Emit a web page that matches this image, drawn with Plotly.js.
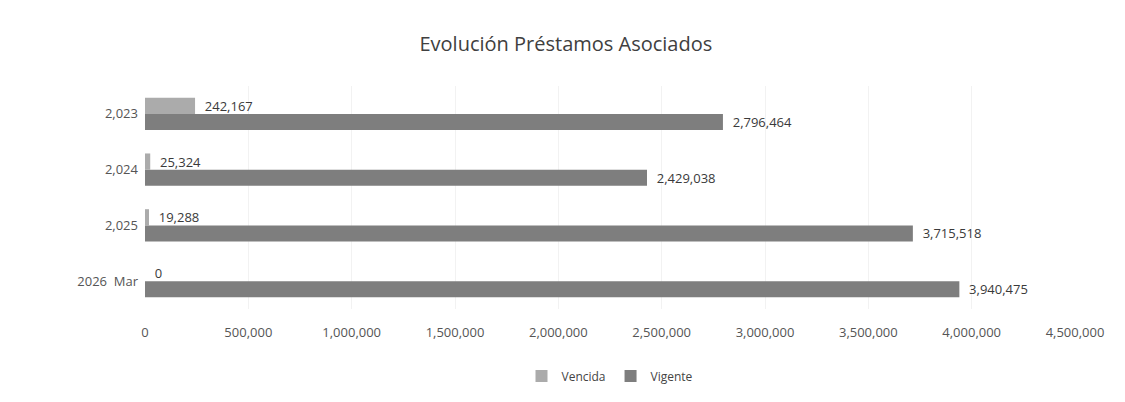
<!DOCTYPE html>
<html><head><meta charset="utf-8">
<script src="https://cdn.plot.ly/plotly-3.0.1.min.js"></script>
<style>html,body{margin:0;padding:0;background:#fff}#chart{width:1125px;height:402px}</style>
</head><body><div id="chart"></div>
<script>
const categories = ["2,023", "2,024", "2,025", "2026  Mar"];
const vencida = [242167, 25324, 19288, 0];
const vigente = [2796464, 2429038, 3715518, 3940475];
const tickVals = [0, 500000, 1000000, 1500000, 2000000, 2500000, 3000000, 3500000, 4000000, 4500000];
const fmt = v => v.toLocaleString('en-US');
const pad = '\u00a0\u00a0';

const font = "Open Sans, Liberation Sans, sans-serif";
const traces = [
  {type:'bar', orientation:'h', name:'Vencida', y:categories, x:vencida,
   marker:{color:'#ababab'}, text:vencida.map(v => pad + fmt(v)), textposition:'outside',
   constraintext:'none', cliponaxis:false, textfont:{size:13,color:'#3a3a3a',family:font}},
  {type:'bar', orientation:'h', name:'Vigente', y:categories, x:vigente,
   marker:{color:'#7e7e7e'}, text:vigente.map(v => pad + fmt(v)), textposition:'outside',
   constraintext:'none', cliponaxis:false, textfont:{size:13,color:'#3a3a3a',family:font}}
];
const layout = {
  width:1125, height:402,
  paper_bgcolor:'#fff', plot_bgcolor:'#fff',
  margin:{l:145, r:50, t:86, b:88},
  title:{text:'Evolución Préstamos Asociados', x:0.503, xanchor:'center', y:0.89, yanchor:'middle',
         font:{size:20, color:'#404040', family:font}},
  barmode:'group', bargap:0.42, bargroupgap:0,
  xaxis:{range:[0,4500000], tickvals:tickVals, ticktext:tickVals.map(fmt),
         showgrid:true, gridcolor:'#f2f2f2', zeroline:false, showline:false,
         tickfont:{size:13,color:'#555',family:font}, ticks:'', ticklabelstandoff:14},
  yaxis:{type:'category', autorange:'reversed', showgrid:false, showline:false, ticks:'',
         tickfont:{size:13,color:'#555',family:font}, ticklabelstandoff:6},
  legend:{orientation:'h', x:0.5, xanchor:'center', y:-0.3, yanchor:'middle',
          font:{size:12,color:'#444',family:font}},
  showlegend:true
};
Plotly.newPlot('chart', traces, layout, {staticPlot:true});
</script></body></html>
